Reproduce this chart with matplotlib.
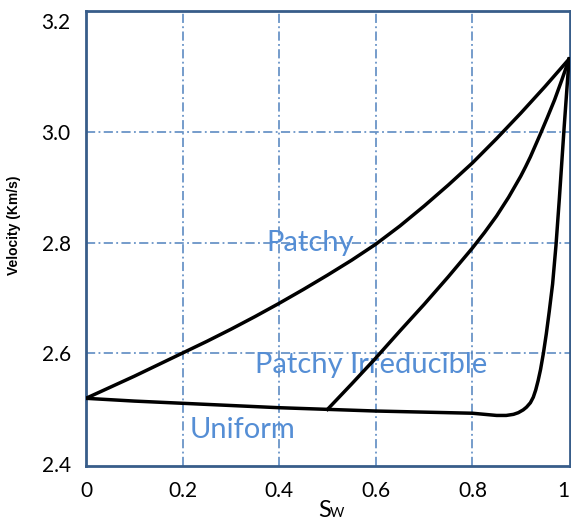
import matplotlib.pyplot as plt

plt.rcParams['font.family'] = ['Lato', 'DejaVu Sans']

# water saturation vs P-wave velocity for three fluid mixing models
patchy_sw = [0, 0.05, 0.1, 0.15, 0.2, 0.25, 0.3, 0.35, 0.4, 0.45, 0.5, 0.55, 0.6,
             0.65, 0.7, 0.75, 0.8, 0.85, 0.9, 0.95, 1.0]
patchy_v = [2.518, 2.538, 2.558, 2.579, 2.600, 2.621, 2.643, 2.666, 2.690, 2.715, 2.741, 2.768, 2.797,
            2.830, 2.866, 2.904, 2.944, 2.988, 3.034, 3.082, 3.132]

irred_sw = [0.5, 0.55, 0.6, 0.65, 0.7, 0.75, 0.8, 0.825, 0.85, 0.875, 0.9, 0.91, 0.92, 0.94,
            0.955, 0.97, 0.985, 1.0]
irred_v = [2.498, 2.544, 2.591, 2.640, 2.688, 2.738, 2.790, 2.818, 2.848, 2.882, 2.920, 2.937, 2.955, 2.995,
           3.026, 3.058, 3.094, 3.132]

uniform_sw = [0, 0.1, 0.2, 0.3, 0.4, 0.5, 0.6, 0.7, 0.8, 0.85, 0.87, 0.885, 0.895, 0.905, 0.912,
              0.92, 0.926, 0.931, 0.936, 0.941, 0.947, 0.953, 0.959, 0.966, 0.973, 0.98, 0.99, 1.0]
uniform_v = [2.518, 2.513, 2.509, 2.505, 2.501, 2.498, 2.495, 2.493, 2.491, 2.487, 2.487, 2.489, 2.492, 2.497, 2.502,
             2.510, 2.520, 2.533, 2.550, 2.570, 2.600, 2.635, 2.675, 2.725, 2.795, 2.880, 3.010, 3.132]

xticks = [0, 0.2, 0.4, 0.6, 0.8, 1]
xlabels = ['0', '0.2', '0.4', '0.6', '0.8', '1']
yticks = [2.4, 2.6, 2.8, 3.0, 3.2]
ylabels = ['2.4', '2.6', '2.8', '3.0', '3.2']

fig = plt.figure(figsize=(5.71, 5.22), dpi=100)
ax = fig.add_axes([86/571, 56/522, 484/571, 455/522])

grid_col = '#4F81BD'
dash_dot = (0, (6, 2.2, 1.2, 2.2))
for x in xticks[1:-1]:
    ax.axvline(x, color=grid_col, lw=1.1, ls=dash_dot, zorder=1)
for y in yticks[1:-1]:
    ax.axhline(y, color=grid_col, lw=1.1, ls=dash_dot, zorder=1)

ax.plot(patchy_sw, patchy_v, color='black', lw=2.5, zorder=3, solid_joinstyle='round')
ax.plot(irred_sw, irred_v, color='black', lw=2.5, zorder=3, solid_joinstyle='round')
ax.plot(uniform_sw, uniform_v, color='black', lw=2.5, zorder=3, solid_joinstyle='round')

txt_col = '#558ED5'
ax.text(0.465, 2.80, 'Patchy', color=txt_col, fontsize=21, ha='center', va='center', zorder=2)
ax.text(0.59, 2.578, 'Patchy Irreducible', color=txt_col, fontsize=21, ha='center', va='center', zorder=2)
ax.text(0.325, 2.461, 'Uniform', color=txt_col, fontsize=21, ha='center', va='center', zorder=2)

ax.set_xlim(0, 1.002)
ax.set_ylim(2.3955, 3.219)
ax.set_xticks(xticks)
ax.set_xticklabels(xlabels)
ax.set_yticks(yticks)
ax.set_yticklabels(ylabels)
ax.tick_params(length=0, labelsize=15, pad=11)
# keep the last x label inside the figure
ax.get_xticklabels()[-1].set_horizontalalignment('right')

for s in ax.spines.values():
    s.set_color('#385D8A')
    s.set_linewidth(2)

ax.set_ylabel('Velocity (Km/s)', fontsize=10, fontweight='bold', family='Liberation Sans')
ax.yaxis.set_label_coords(-0.135, 0.53)

# S with a small W on the same baseline
fig.text(318/571, 5/522, 'S', fontsize=17, ha='left', va='baseline')
fig.text(330/571, 5/522, 'W', fontsize=10, ha='left', va='baseline')

fig.savefig('out.png', dpi=100)
